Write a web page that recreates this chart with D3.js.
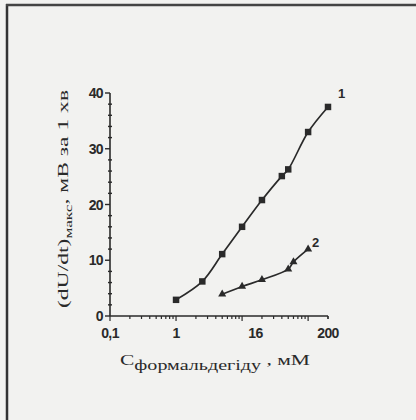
<!DOCTYPE html>
<html>
<head>
<meta charset="utf-8">
<script src="https://cdn.jsdelivr.net/npm/d3@7"></script>
<style>
  body { margin: 0; background: #f2f2f0; }
  svg { display: block; }
</style>
</head>
<body>
<div id="graph"></div>
<script>
//Data of curve 1 (squares)
var conc1 = [1, 2.5, 5, 10, 20, 40, 50, 100, 200];
var rate1 = [2.9, 6.2, 11.1, 16.0, 20.8, 25.1, 26.3, 33.0, 37.5];

//Data of curve 2 (triangles)
var conc2 = [5, 10, 20, 50, 60, 100];
var rate2 = [3.9, 5.3, 6.5, 8.4, 9.7, 12.0];

//Tick labels
var xTicks = [0.1, 1, 16, 200];
var xTickLabels = ["0,1", "1", "16", "200"];
var yTicks = [0, 10, 20, 30, 40];

var ink = "#2a2a2a";
var width = 416, height = 420;

//Svg creation
var svg = d3.select("#graph").append("svg").attr("width", width).attr("height", height);

svg.append("rect").attr("width", width).attr("height", height).attr("fill", "#f2f2f0");

//Frame of the scanned page
svg.append("line").attr("x1", 7).attr("x2", 7).attr("y1", 4).attr("y2", height)
  .attr("stroke", "#333").attr("stroke-width", 2.5);
svg.append("line").attr("x1", 6).attr("x2", width).attr("y1", 5).attr("y2", 5)
  .attr("stroke", "#444").attr("stroke-width", 2.5);

//Scales
var x = d3.scaleLog().domain([0.1, 200]).range([110, 328]);
var y = d3.scaleLinear().domain([0, 40]).range([316, 93]);

var tickFont = "Liberation Sans Narrow, Liberation Sans, Arial, sans-serif";

//Y axis line and ticks
svg.append("line").attr("x1", x(0.1)).attr("x2", x(0.1)).attr("y1", y(0)).attr("y2", y(40))
  .attr("stroke", ink).attr("stroke-width", 1.6);
svg.selectAll(".ymin").data(d3.range(0, 41, 2)).enter().append("line")
  .attr("x1", function(d) { return x(0.1) - (d % 10 == 0 ? 5 : 2); })
  .attr("x2", function(d) { return x(0.1) + (d % 10 == 0 ? 0 : 2); })
  .attr("y1", function(d) { return y(d); })
  .attr("y2", function(d) { return y(d); })
  .attr("stroke", ink).attr("stroke-width", 1.4);
svg.selectAll(".ylab").data(yTicks).enter().append("text")
  .attr("x", x(0.1) - 7).attr("y", function(d) { return y(d) + 5; })
  .attr("text-anchor", "end")
  .attr("font-family", tickFont)
  .attr("font-size", 14).attr("font-weight", "bold").attr("fill", ink)
  .attr("letter-spacing", -0.6)
  .text(function(d) { return d; });

//X axis line and log ticks
svg.append("line").attr("x1", x(0.1)).attr("x2", x(200)).attr("y1", y(0)).attr("y2", y(0))
  .attr("stroke", ink).attr("stroke-width", 1.6);
var minor = [];
[0.1, 1, 10, 100].forEach(function(dec) {
  for (var k = 1; k < 10; k++) { if (dec * k <= 200) minor.push(dec * k); }
});
minor.push(200);
svg.selectAll(".xmin").data(minor).enter().append("line")
  .attr("x1", function(d) { return x(d); })
  .attr("x2", function(d) { return x(d); })
  .attr("y1", y(0))
  .attr("y2", function(d) { return y(0) + (Math.abs(Math.log10(d) % 1) < 1e-9 ? 5 : 3); })
  .attr("stroke", ink).attr("stroke-width", 1.2);
svg.selectAll(".xlab").data(xTicks).enter().append("text")
  .attr("x", function(d) { return x(d); }).attr("y", y(0) + 22)
  .attr("text-anchor", "middle")
  .attr("font-family", tickFont)
  .attr("font-size", 14).attr("font-weight", "bold").attr("fill", ink)
  .attr("letter-spacing", -0.6)
  .text(function(d, i) { return xTickLabels[i]; });

//Curves
var line = d3.line()
  .x(function(d) { return x(d[0]); })
  .y(function(d) { return y(d[1]); })
  .curve(d3.curveCatmullRom.alpha(0.5));

var pts1 = conc1.map(function(c, i) { return [c, rate1[i]]; });
var pts2 = conc2.map(function(c, i) { return [c, rate2[i]]; });

svg.append("path").datum(pts1).attr("d", line)
  .attr("fill", "none").attr("stroke", ink).attr("stroke-width", 1.7);
svg.append("path").datum(pts2).attr("d", line)
  .attr("fill", "none").attr("stroke", ink).attr("stroke-width", 1.7);

//Markers
svg.selectAll(".sq").data(pts1).enter().append("path")
  .attr("transform", function(d) { return "translate(" + x(d[0]) + "," + y(d[1]) + ")"; })
  .attr("d", d3.symbol().type(d3.symbolSquare).size(42))
  .attr("fill", ink);
svg.selectAll(".tri").data(pts2).enter().append("path")
  .attr("transform", function(d) { return "translate(" + x(d[0]) + "," + y(d[1]) + ")"; })
  .attr("d", d3.symbol().type(d3.symbolTriangle).size(28))
  .attr("fill", ink);

//Curve numbers
svg.append("text").attr("x", x(200) + 10).attr("y", y(37.5) - 9)
  .attr("font-family", tickFont).attr("font-weight", "bold")
  .attr("font-size", 13).attr("fill", ink).text("1");
svg.append("text").attr("x", x(100) + 4).attr("y", y(12) - 2)
  .attr("font-family", tickFont).attr("font-weight", "bold")
  .attr("font-size", 13).attr("fill", ink).text("2");

//Y axis title
var yt = svg.append("text")
  .attr("transform", "translate(68,199) rotate(-90)")
  .attr("text-anchor", "middle")
  .attr("font-family", "Liberation Serif, Times New Roman, serif")
  .attr("font-size", 15).attr("fill", ink)
  .attr("textLength", 218).attr("lengthAdjust", "spacingAndGlyphs");
yt.append("tspan").text("(dU/dt)");
yt.append("tspan").attr("font-size", 11).attr("dy", 4).text("макс");
yt.append("tspan").attr("dy", -4).text(",  мВ за 1 хв");

//X axis title
var xt = svg.append("text")
  .attr("x", 215).attr("y", 365)
  .attr("text-anchor", "middle")
  .attr("font-family", "Liberation Serif, Times New Roman, serif")
  .attr("font-size", 15).attr("fill", ink)
  .attr("textLength", 190).attr("lengthAdjust", "spacingAndGlyphs");
xt.append("tspan").text("C");
xt.append("tspan").attr("font-size", 14).attr("dy", 5).text("формальдегіду");
xt.append("tspan").attr("dy", -5).text(" , мМ");
</script>
</body>
</html>
